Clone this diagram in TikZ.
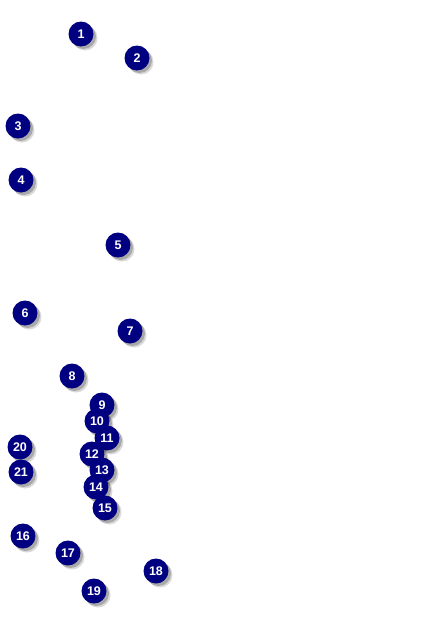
\documentclass[tikz,border=0pt]{standalone}
\usepackage{fontspec}
\setmainfont{Liberation Sans}
\definecolor{badge}{RGB}{0,0,128}
\begin{document}
\begin{tikzpicture}[x=1pt,y=-1pt,
  badge/.style={circle,fill=badge,minimum size=25pt,inner sep=0pt,
    text=white,font=\fontsize{12.5}{14}\selectfont\bfseries,
    preaction={fill=black,opacity=0.15,transform canvas={shift={(4pt,-4pt)}}},
    preaction={fill=black,opacity=0.22,transform canvas={shift={(2.5pt,-2.5pt)}}}}]
\useasboundingbox (0,0) rectangle (442,624);
\fill[white] (0,0) rectangle (442,624);
\node[badge] (n1) at (81,34) {1};
\node[badge] (n2) at (137,58) {2};
\node[badge] (n3) at (18,126) {3};
\node[badge] (n4) at (21,180) {4};
\node[badge] (n5) at (118,245) {5};
\node[badge] (n6) at (25,313) {6};
\node[badge] (n7) at (130,331) {7};
\node[badge] (n8) at (72,376) {8};
\node[badge] (n9) at (102,405) {9};
\node[badge] (n10) at (97,421) {10};
\node[badge] (n11) at (107,438) {11};
\node[badge] (n12) at (92,454) {12};
\node[badge] (n13) at (102,470) {13};
\node[badge] (n14) at (96,487) {14};
\node[badge] (n15) at (105,508) {15};
\node[badge] (n16) at (23,536) {16};
\node[badge] (n17) at (68,553) {17};
\node[badge] (n18) at (156,571) {18};
\node[badge] (n19) at (94,591) {19};
\node[badge] (n20) at (20,447) {20};
\node[badge] (n21) at (21,472) {21};
\end{tikzpicture}
\end{document}
